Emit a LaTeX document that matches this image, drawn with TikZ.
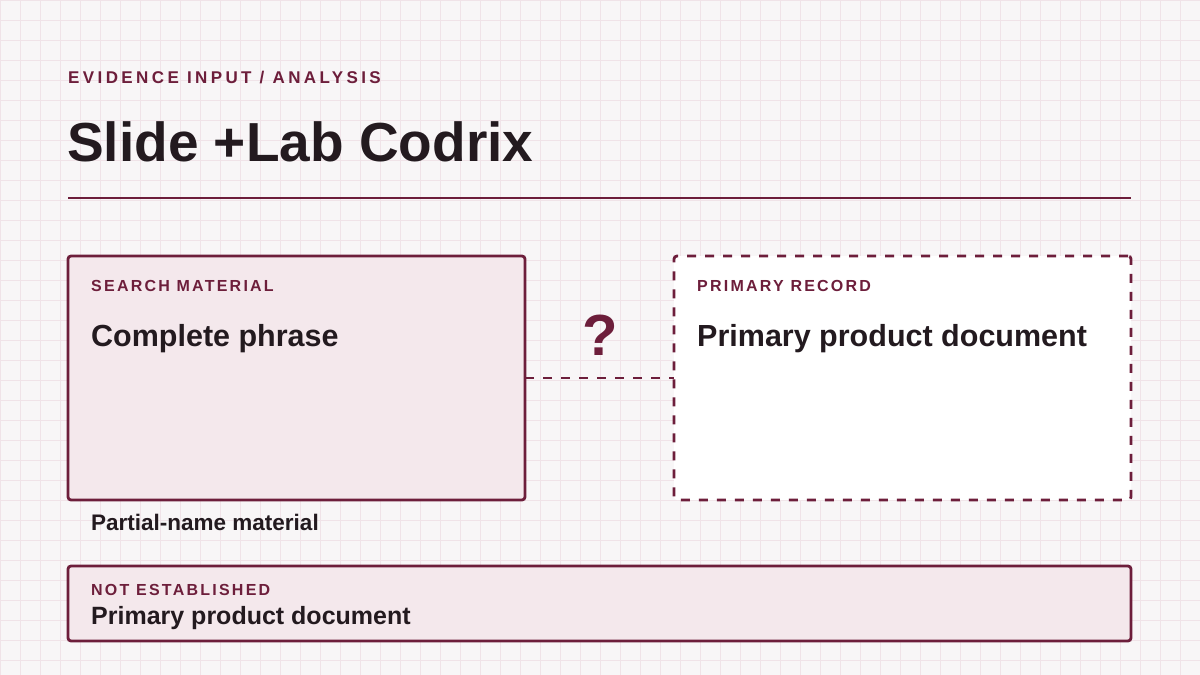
\documentclass[tikz,border=0pt]{standalone}
\usepackage{fontspec}
\setmainfont{Liberation Sans}
\newfontfamily\tagfont[LetterSpace=14]{Liberation Sans}
\newfontfamily\kickerfont[LetterSpace=20]{Liberation Sans}
\definecolor{wine}{HTML}{6D1E3B}
\definecolor{ink}{HTML}{231A1F}
\definecolor{blush}{HTML}{F4E8EC}
\definecolor{paper}{HTML}{F8F6F7}
\definecolor{gridpink}{HTML}{F0E3E8}

\begin{document}
\begin{tikzpicture}[x=1pt,y=-1pt,
	box/.style={draw=wine, line width=2.8pt, rounded corners=3pt, fill=blush, inner sep=0pt, outer sep=0pt},
	openbox/.style={box, fill=white, dash pattern=on 9pt off 9pt},
	tag/.style={anchor=base west, inner sep=0pt, text=wine, font=\tagfont\bfseries\fontsize{16}{18}\selectfont},
	claim/.style={anchor=base west, inner sep=0pt, text=ink, font=\bfseries\fontsize{30.5}{34}\selectfont}]
	\useasboundingbox (0,0) rectangle (1200,675);
	\fill[paper] (0,0) rectangle (1200,675);
	\draw[gridpink, line width=1pt, step=20pt] (0,0) grid (1200,675);

	% heading
	\node[anchor=base west, inner sep=0pt, text=wine, font=\kickerfont\bfseries\fontsize{17}{20}\selectfont] (kicker) at (68,83) {EVIDENCE INPUT / ANALYSIS};
	\node[anchor=base west, inner sep=0pt, text=ink, font=\bfseries\fontsize{55}{60}\selectfont] (title) at (67,161) {Slide +Lab Codrix};
	\draw[wine, line width=2.8pt] (68,198)--(1131,198);

	% the two records
	\node[box, minimum width=457pt, minimum height=244pt] (search) at (296.5,378) {};
	\node[openbox, minimum width=457pt, minimum height=244pt] (record) at (902.5,378) {};
	\draw[wine, line width=2.8pt, dash pattern=on 9pt off 9pt] (search.east)--(record.west);
	\node[anchor=base, inner sep=0pt, text=wine, font=\bfseries\fontsize{58}{60}\selectfont] (query) at (600.5,355) {?};

	\node[tag] (searchtag) at (91,291) {SEARCH MATERIAL};
	\node[claim] (phrase) at (91,346) {Complete phrase};
	\node[tag] (recordtag) at (697,291) {PRIMARY RECORD};
	\node[claim] (document) at (697,346) {Primary product document};
	\node[anchor=base west, inner sep=0pt, text=ink, font=\bfseries\fontsize{22.5}{26}\selectfont] (partial) at (91,530.5) {Partial-name material};

	% verdict
	\node[box, minimum width=1063pt, minimum height=75pt] (verdict) at (599.5,603.5) {};
	\node[tag] (verdicttag) at (91,595) {NOT ESTABLISHED};
	\node[anchor=base west, inner sep=0pt, text=ink, font=\bfseries\fontsize{25}{28}\selectfont] (missing) at (91,624) {Primary product document};
\end{tikzpicture}
\end{document}
